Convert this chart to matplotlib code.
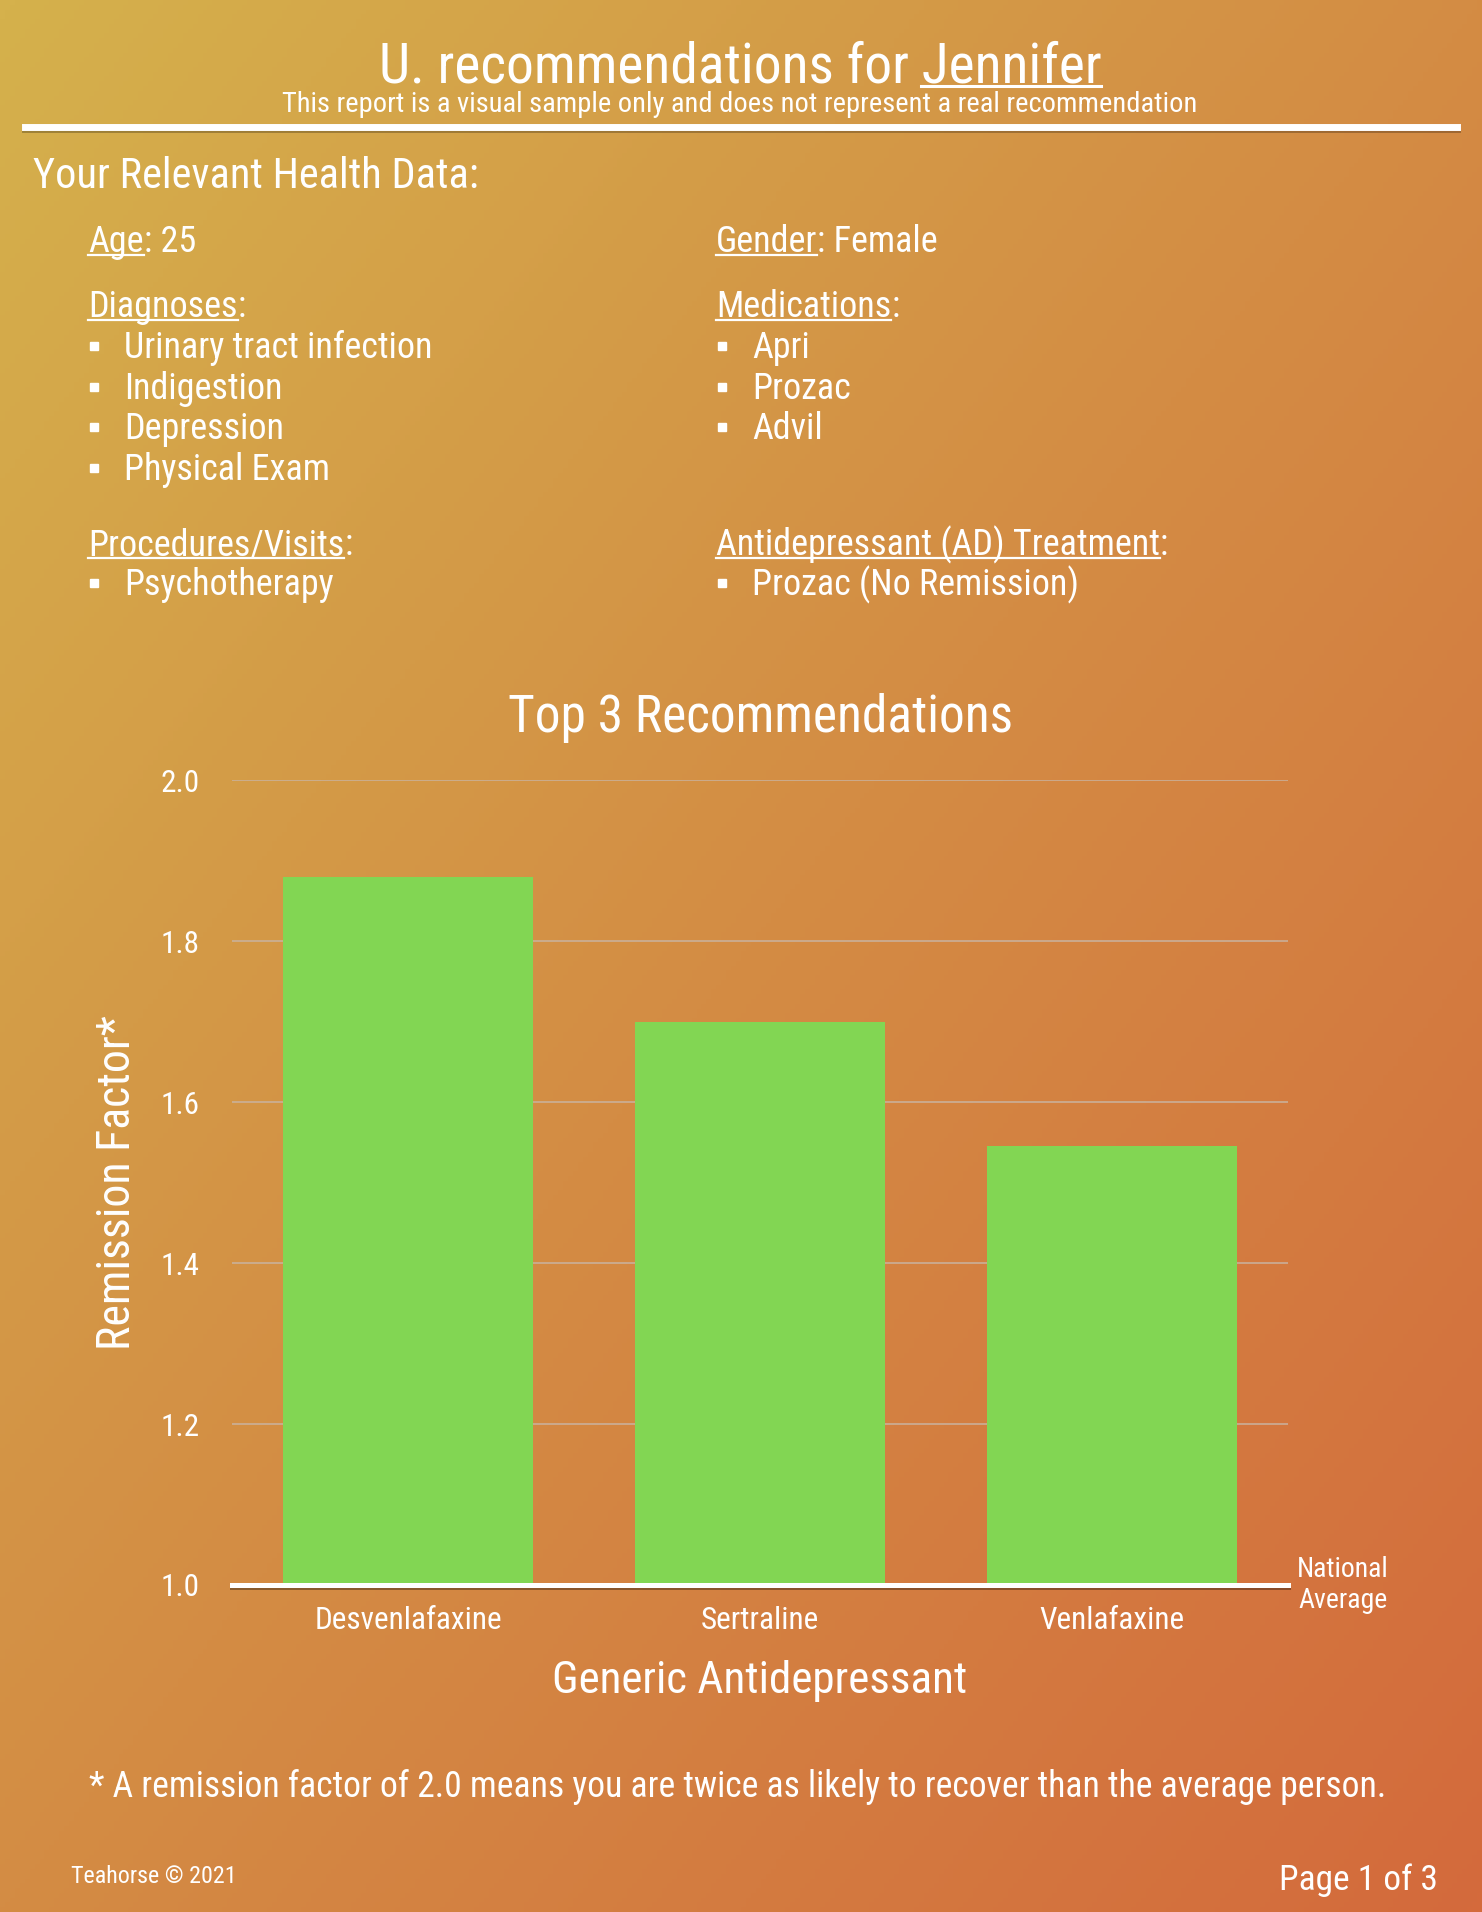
import numpy as np
import matplotlib
matplotlib.use("Agg")
import matplotlib.pyplot as plt
from matplotlib import font_manager
from matplotlib import patheffects
from matplotlib.colors import LinearSegmentedColormap

W, H = 1482, 1912

# chart data
drugs = ["Desvenlafaxine", "Sertraline", "Venlafaxine"]
remission = [1.88, 1.70, 1.545]
y_ticks = [1.0, 1.2, 1.4, 1.6, 1.8, 2.0]

# report text
patient_name = "Jennifer"
age = "25"
gender = "Female"
diagnoses = ["Urinary tract infection", "Indigestion", "Depression", "Physical Exam"]
medications = ["Apri", "Prozac", "Advil"]
procedures = ["Psychotherapy"]
ad_treatment = ["Prozac (No Remission)"]

installed = {f.name for f in font_manager.fontManager.ttflist}
fams = [f for f in ["Liberation Sans Narrow", "Roboto Condensed", "Open Sans Condensed"] if f in installed]
plt.rcParams["font.family"] = fams + ["DejaVu Sans"]

fig = plt.figure(figsize=(W / 100, H / 100), dpi=100)

# gradient background, also used as a pixel canvas for the page text
bg = fig.add_axes([0, 0, 1, 1])
gx, gy = np.meshgrid(np.linspace(0, 1, 300), np.linspace(0, 1, 400))
cmap = LinearSegmentedColormap.from_list("bg", ["#d5b14c", "#d38c44", "#d46a3c"])
bg.imshow((gx + gy) / 2, cmap=cmap, aspect="auto", extent=[0, W, H, 0], vmin=0, vmax=1)
bg.set_xlim(0, W)
bg.set_ylim(H, 0)
bg.set_axis_off()

renderer = fig.canvas.get_renderer()
inv = bg.transData.inverted()


def txt(x, y, s, size, **kw):
    kw.setdefault("va", "baseline")
    return bg.text(x, y, s, fontsize=size, color="white", **kw)


def width_of(t):
    bb = t.get_window_extent(renderer)
    (x0, _), (x1, _) = inv.transform([(bb.x0, bb.y0), (bb.x1, bb.y1)])
    return x0, x1


def field(x, y, word, rest, size=26):
    t = txt(x, y, word, size)
    x0, x1 = width_of(t)
    bg.plot([x0, x1], [y + 3, y + 3], color="white", lw=1.6)
    txt(x1, y, rest, size)


def bullets(x, y, items, size=26, step=40.7):
    for i, s in enumerate(items):
        yy = y + i * step
        bg.plot([x + 6], [yy - 12], marker="s", ms=5.5, color="white", lw=0)
        txt(x + 36, yy, s, size)


# header
title = txt(740, 82, "U. recommendations for " + patient_name, 40, ha="center")
tmp = txt(0, 0, patient_name, 40)
j0, j1 = width_of(tmp)
tmp.remove()
t0, t1 = width_of(title)
bg.plot([t1 - (j1 - j0), t1], [86, 86], color="white", lw=2.2)
txt(740, 112, "This report is a visual sample only and does not represent a real recommendation", 20.5, ha="center")
bg.plot([25, 1457], [126.5, 126.5], color="white", lw=5,
        path_effects=[patheffects.SimpleLineShadow(offset=(0, -1.5), alpha=0.25), patheffects.Normal()])

txt(33, 188, "Your Relevant Health Data:", 30.5)

field(88, 252, "Age", ": " + age)
field(716, 252, "Gender", ": " + gender)
field(88, 317, "Diagnoses", ":")
bullets(88, 358, diagnoses)
field(716, 317, "Medications", ":")
bullets(716, 358, medications)
field(88, 555, "Procedures/Visits", ":")
bullets(88, 595, procedures)
field(716, 555, "Antidepressant (AD) Treatment", ":")
bullets(716, 595, ad_treatment)

# chart
ax = fig.add_axes([232 / W, 1 - 1585 / H, 1056 / W, 805 / H])
ax.patch.set_alpha(0)
xpos = np.arange(len(drugs))
ax.bar(xpos, remission, width=0.71, color="#82d653", zorder=2)
ax.set_xlim(-0.5, len(drugs) - 0.5)
ax.set_ylim(y_ticks[0], y_ticks[-1])
ax.set_yticks(y_ticks)
ax.set_yticklabels([f"{v:.1f}" for v in y_ticks])
ax.set_xticks(xpos)
ax.set_xticklabels(drugs)
ax.yaxis.grid(True, color="#c9b3a0", lw=1.1, zorder=0)
ax.set_axisbelow(True)
for sp in ax.spines.values():
    sp.set_visible(False)
ax.tick_params(axis="both", length=0, colors="white", labelsize=22.5)
ax.tick_params(axis="y", pad=23)
ax.tick_params(axis="x", pad=15)
ax.axhline(1.0, color="white", lw=3.6, zorder=3, clip_on=False,
           path_effects=[patheffects.SimpleLineShadow(offset=(0, -1.5), alpha=0.35), patheffects.Normal()])

ax.set_title("Top 3 Recommendations", fontsize=37, color="white", y=1.06, pad=0)
ax.set_xlabel("Generic Antidepressant", fontsize=32.5, color="white", va="center")
ax.xaxis.set_label_coords(0.5, -0.119)
ax.set_ylabel("Remission Factor*", fontsize=33, color="white", va="center")
ax.yaxis.set_label_coords(-0.109, 0.5)
ax.text(1.0085, 0.0, "National\nAverage", transform=ax.transAxes, fontsize=20, color="white",
        ha="left", va="center", multialignment="center", linespacing=1.15)

# footer
txt(738, 1797, "* A remission factor of 2.0 means you are twice as likely to recover than the average person.", 25.7, ha="center")
txt(71, 1883, "Teahorse \u00a9 2021", 17.3)
txt(1438, 1890, "Page 1 of 3", 25.5, ha="right")

fig.savefig("out.png", dpi=100)
